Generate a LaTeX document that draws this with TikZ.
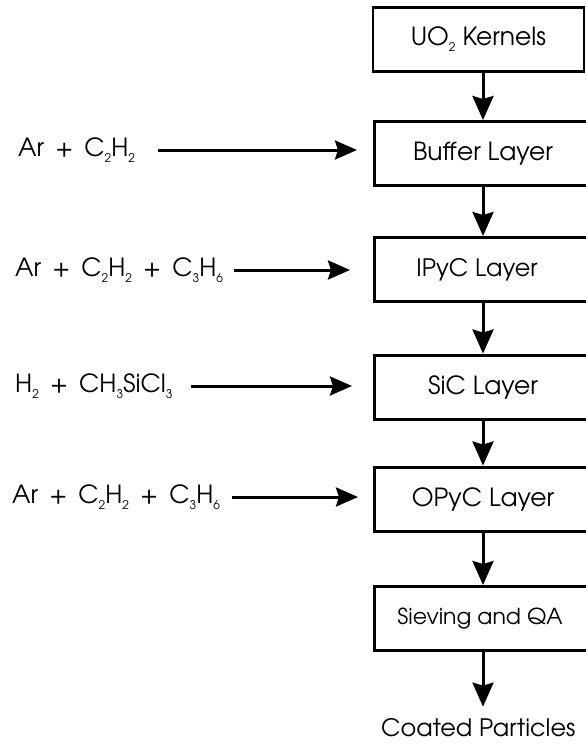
\documentclass[tikz,border=0pt]{standalone}
\usepackage{fontspec}
\setmainfont{TeX Gyre Adventor}
\usetikzlibrary{arrows.meta,calc}
\newcommand\chsub[1]{\raisebox{-6pt}{\fontsize{12}{12}\selectfont #1}}
\begin{document}
\begin{tikzpicture}[x=1pt,y=-1pt,
  box/.style={draw, line width=3pt, minimum height=64pt, minimum width=218pt, inner sep=0pt, font=\fontsize{25}{28}\selectfont},
  lbl/.style={inner sep=0pt, font=\fontsize{25}{28}\selectfont, anchor=west},
  flow/.style={line width=3pt, -{Stealth[length=24pt,width=21pt,inset=3pt]}},
  feed/.style={line width=3pt, -{Stealth[length=22pt,width=19pt,inset=3pt]}}]
\useasboundingbox (0,0) rectangle (586,744);
\fill[white] (0,0) rectangle (586,744);
\clip (0,0) rectangle (586,744);
\node[box, minimum width=211pt, line width=2.5pt] (k) at (478.5,39.5) {UO\chsub{2} Kernels};
\node[box] (b) at (483,153.5) {Buffer Layer};
\node[box] (i) at (483,269.5) {\fontsize{24}{28}\selectfont IPyC Layer\hspace*{12pt}};
\node[box] (s) at (483,387) {SiC Layer};
\node[box] (o) at (483,499) {OPyC Layer};
\node[box] (q) at (483,618.5) {\fontsize{22}{26}\selectfont Sieving and QA\hspace*{6pt}};
\node[lbl] (c) at (381,728) {\fontsize{24}{28}\selectfont Coated Particles};
\draw[flow] (k.south -| b.north) -- (b.north);
\draw[flow] (b.south) -- (i.north);
\draw[flow] (i.south) -- (s.north);
\draw[flow] (s.south) -- (o.north);
\draw[flow] (o.south) -- (q.north);
\draw[flow, shorten >=12pt] (q.south) -- (q.south |- c.north);
\node[lbl] (t1) at (18,150) {Ar \,+\, C\chsub{2}H\chsub{2}};
\node[lbl] (t2) at (15,270) {Ar \,+\, C\chsub{2}H\chsub{2} \,+\, C\chsub{3}H\chsub{6}};
\node[lbl] (t3) at (15,386) {H\chsub{2} \,+\, CH\chsub{3}SiCl\chsub{3}};
\node[lbl] (t4) at (12,497) {Ar \,+\, C\chsub{2}H\chsub{2} \,+\, C\chsub{3}H\chsub{6}};
\coordinate (e1) at (357,150);
\coordinate (e2) at (350,270);
\coordinate (e3) at (352,386);
\coordinate (e4) at (358,497);
\draw[feed] (e1 -| 158,0) -- (e1);
\draw[feed] ([xshift=11pt]t2.east) -- (e2);
\draw[feed] ([xshift=18pt]t3.east) -- (e3);
\draw[feed] ([xshift=12pt]t4.east) -- (e4);
\end{tikzpicture}
\end{document}
